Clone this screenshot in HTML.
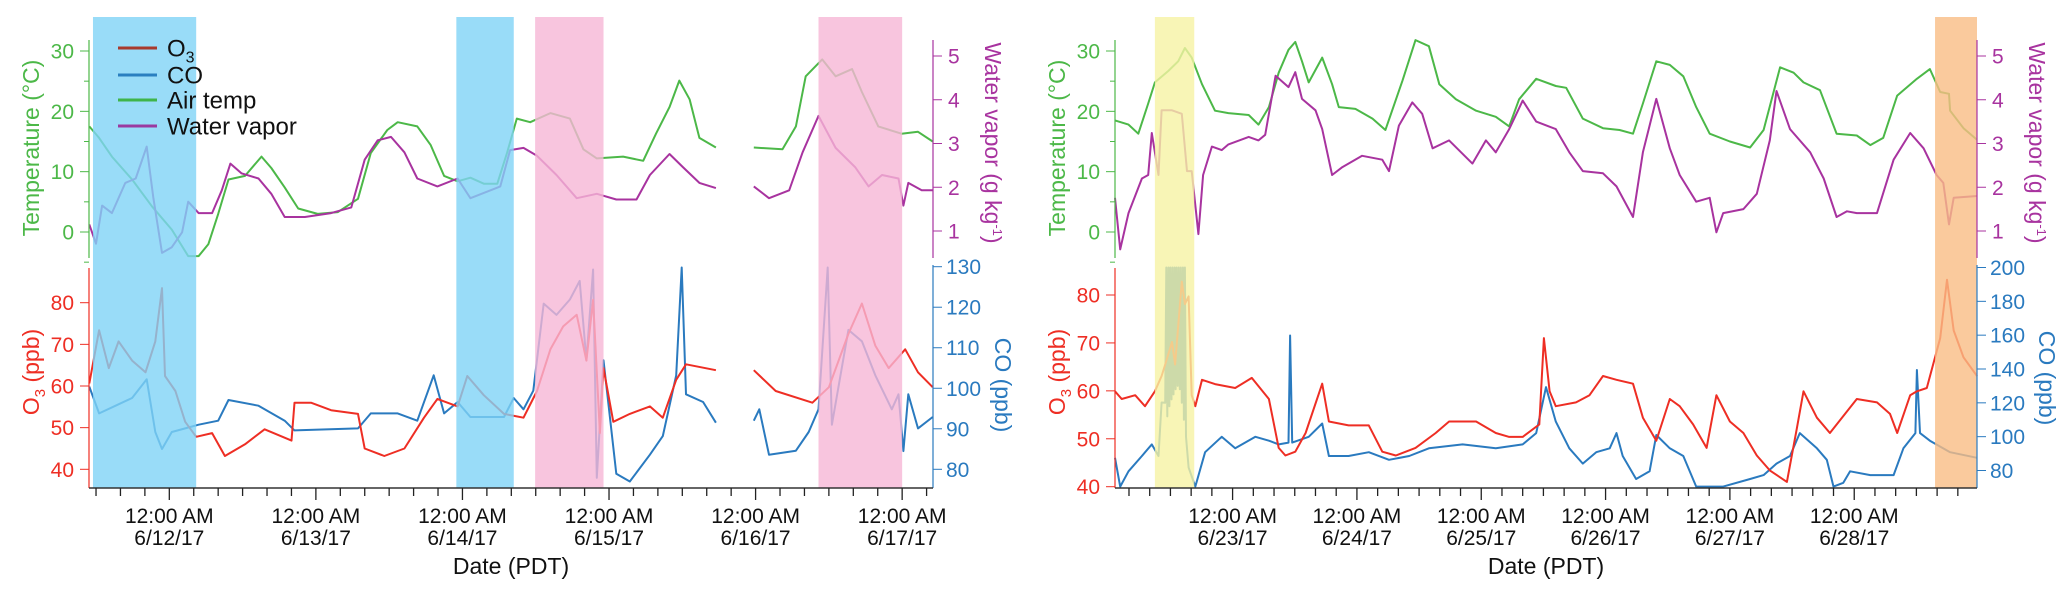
<!DOCTYPE html>
<html><head><meta charset="utf-8">
<style>
html,body{margin:0;padding:0;background:#fff;}
svg{display:block;font-family:"Liberation Sans",Arial,sans-serif;}
</style></head>
<body>
<svg id="chart" width="2067" height="596" viewBox="0 0 2067 596" xmlns="http://www.w3.org/2000/svg">
<g id="leftPanel"></g>
<g id="rightPanel"></g>
</svg>
<script>
// ---------- LEFT PANEL DATA (hours since 6/11/17 00:00) ----------
const L_tempT = [10.9,12.5,14.6,17.9,21.2,24.4,27.1,28.8,30.4,32.0,33.7,36.4,39.1,40.7,42.9,45.1,48.3,51.6,54.9,57.0,59.7,61.4,64.6,66.8,69.0,71.2,73.3,75.5,77.7,79.3,80.9,83.1,86.4,89.6,91.8,94.0,98.3,101.6,103.7,105.9,107.5,109.2,110.8,113.5,null,119.7,124.4,126.6,128.2,130.9,133.1,135.8,137.4,140.1,143.9,146.6,149.0];
const L_tempV = [17.5,15.6,12.5,8.7,4.2,0.4,-4,-4,-2,3,8.7,9.3,12.5,10.6,7.4,3.9,3,3.3,5.5,13.1,16.9,18.2,17.5,14.4,9.3,8.4,9,8,8,13.1,18.8,18.2,19.7,18.8,13.7,12.2,12.5,11.8,16.3,20.7,25.1,22,15.6,14,null,14,13.7,17.5,25.8,28.6,25.8,27,23.2,17.5,16.3,16.6,15];
const L_wvT = [10.9,12.0,13.0,14.6,16.8,18.5,20.3,21.4,22.8,24.4,26.1,27.1,28.8,31.0,32.6,34.0,35.8,38.6,40.7,42.9,46.2,50.5,53.8,56.0,58.1,60.3,62.5,64.6,67.9,71.2,73.3,76.6,78.2,79.8,82.0,84.2,87.4,90.7,94.0,97.2,100.5,102.7,105.9,108.1,110.8,113.5,null,119.7,122.2,125.5,127.7,130.3,133.1,136.3,138.5,140.7,143.4,144.2,145.0,147.2,149.0];
const L_wvV = [1.15,0.71,1.58,1.41,2.1,2.2,2.93,1.75,0.5,0.63,0.97,1.67,1.41,1.41,1.93,2.54,2.32,2.2,1.85,1.32,1.32,1.41,1.54,2.63,3.07,3.15,2.8,2.2,2.02,2.2,1.75,1.93,2.02,2.85,2.9,2.72,2.28,1.75,1.85,1.72,1.72,2.28,2.76,2.46,2.1,1.98,null,2.02,1.75,1.93,2.8,3.63,2.9,2.46,2.02,2.28,2.2,1.58,2.1,1.93,1.93];
const L_o3T = [10.9,12.5,14.1,15.7,17.9,20.1,21.7,22.8,23.3,25.0,26.6,28.4,31.0,33.1,36.4,39.6,44.0,44.5,47.2,50.5,54.9,56.0,59.2,62.5,65.7,67.9,71.2,72.8,75.5,78.8,82.0,84.2,86.4,88.5,90.7,92.3,93.4,94.5,95.1,96.7,99.4,102.7,104.8,107.0,108.6,113.5,null,119.7,123.3,129.3,132.0,135.2,137.4,139.6,141.8,144.5,146.6,149.0];
const L_o3V = [60.6,73.4,64.3,70.7,66.1,63.3,70.7,83.5,62.4,58.8,51.4,47.8,48.7,43.2,46,49.6,46.9,56,56,54.2,53.3,45,43.2,45,52.4,56.9,55.1,62.4,57.8,53.3,52.4,58.8,68.8,74.3,77.1,66.1,80.7,48.7,64.3,51.4,53.3,55.1,52.4,61.5,65.2,63.8,null,63.8,58.8,56,59.7,72.5,79.8,69.7,64.3,68.8,63.3,59.7];
const L_coT = [10.9,12.5,15.2,17.9,20.3,21.7,22.8,24.4,26.6,28.8,32.0,33.7,38.6,42.9,44.5,54.9,57.0,61.4,64.6,67.3,69.0,71.2,73.3,78.8,80.4,82.0,83.6,85.3,87.4,89.6,91.2,92.3,93.4,94.0,95.1,97.2,99.4,102.7,104.8,107.0,107.9,108.6,111.4,113.5,null,119.7,120.6,122.2,126.6,128.7,130.3,131.8,132.5,135.2,137.4,139.6,142.3,143.4,144.2,145.0,146.6,149.0];
const L_coV = [100.4,93.8,95.7,97.6,102.2,89.2,85,89.2,90.1,91,92,97.1,95.7,92,89.6,90.1,93.8,93.8,92,103.2,93.8,96.6,92.9,92.9,97.6,94.8,99.4,120.9,118.1,121.9,126.5,106.9,129.3,77.9,106.9,78.9,77,83.6,88.2,103.2,129.8,98.5,96.6,91.5,null,92,94.8,83.6,84.6,89.2,94.8,129.8,91,114.4,111.6,103.2,94.8,98.5,84.5,98.5,90.1,92.9];
const L_dates = ["6/12/17","6/13/17","6/14/17","6/15/17","6/16/17","6/17/17"];
const L_shadeStart = [11.5,71.0,83.9,130.3];
const L_shadeEnd = [28.4,80.4,95.1,144.0];
const L_shadeColor = ["#80d3f6","#80d3f6","#f6b6d6","#f6b6d6"];

// ---------- RIGHT PANEL DATA (hours since 6/22/17 00:00) ----------
const R_tempT = [1.3,3.9,5.8,7.7,9.0,11.6,13.5,14.8,16.1,18.1,20.6,23.2,27.1,29.0,31.0,32.9,34.8,36.1,37.4,38.7,41.3,43.2,44.5,47.7,51.0,53.5,56.8,59.3,61.9,63.9,67.1,71.0,74.8,77.4,79.3,82.6,86.4,88.4,91.6,95.5,98.7,101.3,103.2,105.8,108.4,111.0,113.5,116.1,120.0,123.9,126.5,129.7,132.3,134.2,137.4,140.6,144.5,147.1,149.6,152.3,156.1,158.6,160.6,162.3,162.5,165.1,167.7];
const R_tempV = [18.5,17.8,16.3,21.3,24.8,26.7,28.3,30.5,28.9,24.5,20.1,19.7,19.4,17.8,20.7,26.4,30.2,31.5,28.3,24.8,28.9,24.5,20.7,20.4,18.8,16.9,25.1,31.8,30.8,24.5,22,20.1,19.1,17.5,22,25.4,24.2,23.9,18.8,17.2,16.9,16.3,21.3,28.3,27.7,25.8,20.7,16.3,15,14,16.9,27.3,26.4,24.8,23.5,16.3,16,14.4,15.6,22.6,25.4,27,23.2,22.9,20.1,17.2,15.3];
const R_wvT = [1.3,2.3,3.9,6.5,7.7,8.4,9.7,10.3,12.3,14.2,15.2,16.1,17.4,18.3,20.0,21.9,23.2,27.1,29.0,30.3,32.3,34.8,36.1,37.4,40.0,41.3,43.2,45.2,49.0,52.9,54.2,56.1,58.7,60.6,62.6,65.8,70.3,72.9,74.8,77.4,80.0,82.6,86.4,89.0,91.6,95.5,98.1,101.3,103.2,105.8,108.4,110.3,113.5,116.1,117.4,118.7,122.6,125.2,127.7,129.0,131.6,135.5,138.1,140.6,142.6,144.5,148.4,151.6,154.8,157.4,159.9,161.2,162.3,163.2,167.7];
const R_wvV = [1.76,0.58,1.41,2.2,2.28,3.24,2.28,3.76,3.76,3.68,2.37,2.37,0.93,2.28,2.93,2.85,2.98,3.15,3.07,3.2,4.55,4.29,4.63,4.02,3.76,3.33,2.28,2.46,2.72,2.63,2.37,3.41,3.94,3.68,2.89,3.07,2.54,3.07,2.8,3.33,3.98,3.5,3.33,2.8,2.37,2.32,2.02,1.32,2.8,4.02,2.89,2.28,1.67,1.76,0.97,1.41,1.5,1.85,3.07,4.2,3.33,2.8,2.2,1.32,1.45,1.41,1.41,2.63,3.24,2.89,2.28,2.1,1.15,1.76,1.8];
const R_o3T = [1.3,2.6,5.2,7.1,9.0,10.3,11.0,12.3,12.9,14.2,14.8,15.5,16.1,16.8,18.1,20.6,24.5,27.7,31.0,32.9,34.2,36.1,38.1,41.3,42.6,46.4,50.3,52.9,55.5,59.3,63.2,65.8,71.0,74.8,77.4,80.0,83.2,84.1,85.2,86.4,90.3,92.9,95.5,98.1,101.3,103.2,105.8,108.4,110.3,112.9,115.5,117.4,120.0,122.6,125.2,127.7,131.0,132.9,134.2,136.8,139.3,144.5,148.4,150.9,152.3,154.8,156.1,158.0,160.6,161.9,163.2,165.1,167.7];
const R_o3V = [59.9,58.3,59.1,56.8,59.9,63.1,65.5,70.2,65.5,82.8,78.1,79.7,59.1,56.8,62.3,61.4,60.6,62.7,58.3,48.1,46.5,47.3,51.2,61.5,53.6,52.8,52.8,47.3,46.5,48.1,51.2,53.6,53.6,51.2,50.4,50.4,53,71,59.9,56.8,57.6,59.1,63.1,62.3,61.5,54.4,49.6,58.3,56.8,53,48.1,59.1,53.6,51.2,46.5,43.4,41,52,59.9,54.4,51.2,58.3,57.6,55.2,51.2,59.1,59.9,60.6,71,83.2,72.6,67,63.1];
const R_coT = [1.3,2.3,3.9,6.5,8.4,9.7,10.3,11.0,11.2,11.4,11.6,11.8,12.0,12.2,12.4,12.6,12.8,13.0,13.2,13.4,13.6,13.8,14.0,14.2,14.4,14.6,14.8,15.0,15.5,16.8,18.7,21.9,24.5,28.4,31.0,32.9,34.8,35.1,35.5,38.7,41.3,42.6,46.4,50.3,54.2,58.1,61.9,68.4,74.8,80.0,82.6,84.5,86.4,89.0,91.6,94.2,96.8,98.1,99.3,101.9,104.5,105.8,108.4,111.0,113.5,118.7,123.9,126.5,129.0,131.6,133.5,136.8,138.7,140.0,141.9,143.2,147.1,151.6,153.5,155.8,156.1,156.7,158.6,162.5,167.7];
const R_coV = [87.5,70.5,79.5,88.6,95.4,88.6,120.2,120,200,112,200,118,200,122,200,125,200,128,200,130,200,128,200,120,200,110,200,100,81.8,70.5,90.8,99.9,93.1,99.9,97.6,95.4,96.5,159.8,96.5,99.9,107.8,88.6,88.6,90.8,86.3,88.6,93.1,95.4,93.1,95.4,102.1,129.3,108.9,93.1,84.1,90.8,93.1,102.1,88.6,75,79.5,101,93.1,88.6,70.5,70.5,75,77.3,84.1,88.6,102.1,93.1,86.3,70.5,72.7,79.5,77.3,77.3,93.1,102.1,139.4,102.1,97.6,90.8,87.5];
const R_dates = ["6/23/17","6/24/17","6/25/17","6/26/17","6/27/17","6/28/17"];
const R_shadeStart = [9.0,159.6];
const R_shadeEnd = [16.6,170];
const R_shadeColor = ["#f6f3a4","#f9bd84"];

// ---------- colours ----------
const C_T="#4cb848", C_WV="#a8339f", C_O3="#ee2e24", C_CO="#2a7abf";
const NS="http://www.w3.org/2000/svg";
function mk(parent,tag,attrs,text){const e=document.createElementNS(NS,tag);for(const k in attrs)e.setAttribute(k,attrs[k]);if(text!==undefined)e.textContent=text;parent.appendChild(e);return e;}
function lin(d0,d1,r0,r1){return v=>r0+(v-d0)*(r1-r0)/(d1-d0);}

function pathFrom(ts,vs,x,y){let d="",pen=false;for(let i=0;i<ts.length;i++){if(ts[i]===null||vs[i]===null){pen=false;continue;}d+=(pen?"L":"M")+x(ts[i]).toFixed(1)+","+y(vs[i]).toFixed(1);pen=true;}return d;}

function drawPanel(g,cfg){
  const x=lin(cfg.t0,cfg.t1,cfg.x0,cfg.x1);
  const yT=lin(0,30,232,51), yW=lin(1,5,231,56);
  const yO=lin(40,80,cfg.o40,cfg.o80), yC=lin(cfg.c0,cfg.c1,cfg.cy0,cfg.cy1);
  const axY=488;
  const series=[["temperature-line",cfg.tT,cfg.tV,yT,C_T],["water-vapor-line",cfg.wT,cfg.wV,yW,C_WV],["co-line",cfg.cT,cfg.cV,yC,C_CO],["o3-line",cfg.oT,cfg.oV,yO,C_O3]];
  for(const s of series){
    const p=mk(g,"path",{d:pathFrom(s[1],s[2],x,s[3]),fill:"none",stroke:s[4],"stroke-width":2,"stroke-linejoin":"round"});
    
    
  }
  for(let i=0;i<cfg.sS.length;i++){
    const a=x(cfg.sS[i]), b=Math.min(x(cfg.sE[i]),cfg.x1);
    const r=mk(g,"rect",{x:a,y:17,width:b-a,height:axY-17,fill:cfg.sC[i],opacity:0.8});
    
    
  }
  const ax=mk(g,"g",{});
  
  
  mk(ax,"line",{x1:cfg.x0,y1:40,x2:cfg.x0,y2:258,stroke:C_T,"stroke-width":1.2});
  for(let v=-5;v<=30;v+=5){const yy=yT(v);mk(ax,"line",{x1:cfg.x0-(v%10===0?9:5),y1:yy,x2:cfg.x0,y2:yy,stroke:C_T,"stroke-width":1});
    if(v%10===0&&v>=0)mk(ax,"text",{x:cfg.x0-15,y:yy+7.5,"text-anchor":"end","font-size":21,fill:C_T},String(v));}
  const tt=mk(g,"text",{transform:`translate(${cfg.x0-50},148) rotate(-90)`,"text-anchor":"middle","font-size":23,fill:C_T},"Temperature (°C)");
  
  
  const aw=mk(g,"g",{});
  
  
  mk(aw,"line",{x1:cfg.x1,y1:40,x2:cfg.x1,y2:258,stroke:C_WV,"stroke-width":1.2});
  for(let v=1;v<=5;v++){const yy=yW(v);mk(aw,"line",{x1:cfg.x1,y1:yy,x2:cfg.x1+9,y2:yy,stroke:C_WV,"stroke-width":1});
    mk(aw,"text",{x:cfg.x1+15,y:yy+7.5,"font-size":21,fill:C_WV},String(v));}
  const wt=mk(g,"text",{transform:`translate(${cfg.x1+52},143) rotate(90)`,"text-anchor":"middle","font-size":23,fill:C_WV});
  
  
  wt.innerHTML='Water vapor (g kg<tspan dy="-8" font-size="13">-1</tspan><tspan dy="8">)</tspan>';
  const ao=mk(g,"g",{});
  
  
  mk(ao,"line",{x1:cfg.x0,y1:268,x2:cfg.x0,y2:axY,stroke:C_O3,"stroke-width":1.2});
  for(let v=40;v<=80;v+=10){const yy=yO(v);mk(ao,"line",{x1:cfg.x0-9,y1:yy,x2:cfg.x0,y2:yy,stroke:C_O3,"stroke-width":1});
    mk(ao,"text",{x:cfg.x0-15,y:yy+7.5,"text-anchor":"end","font-size":21,fill:C_O3},String(v));}
  const ot=mk(g,"text",{transform:`translate(${cfg.x0-50},372) rotate(-90)`,"text-anchor":"middle","font-size":23,fill:C_O3});
  
  
  ot.innerHTML='O<tspan dy="6" font-size="15">3</tspan><tspan dy="-6"> (ppb)</tspan>';
  const ac=mk(g,"g",{});
  
  
  mk(ac,"line",{x1:cfg.x1,y1:265,x2:cfg.x1,y2:axY,stroke:C_CO,"stroke-width":1.2});
  for(let v=cfg.c0;v<=cfg.c1;v+=cfg.cStep){const yy=yC(v);mk(ac,"line",{x1:cfg.x1,y1:yy,x2:cfg.x1+9,y2:yy,stroke:C_CO,"stroke-width":1});
    mk(ac,"text",{x:cfg.x1+13,y:yy+7.5,"font-size":21,fill:C_CO},String(v));}
  const ct=mk(g,"text",{transform:`translate(${cfg.x1+62},${cfg.coTitleY}) rotate(90)`,"text-anchor":"middle","font-size":23,fill:C_CO},"CO (ppb)");
  
  
  const xa=mk(g,"g",{});
  
  
  mk(xa,"line",{x1:cfg.x0,y1:axY,x2:cfg.x1,y2:axY,stroke:"#333","stroke-width":1.6});
  for(let h=Math.ceil(cfg.t0/4)*4;h<=cfg.t1;h+=4){const xx=x(h);mk(xa,"line",{x1:xx,y1:axY,x2:xx,y2:axY+(h%24===0?12:8),stroke:"#222","stroke-width":1.3});}
  for(let i=0;i<cfg.dates.length;i++){const xx=x(24*(i+cfg.firstDay));
    mk(xa,"text",{x:xx,y:523,"text-anchor":"middle","font-size":21,fill:"#111"},"12:00 AM");
    mk(xa,"text",{x:xx,y:545,"text-anchor":"middle","font-size":21,fill:"#111"},cfg.dates[i]);}
  const dt=mk(g,"text",{x:(cfg.x0+cfg.x1)/2,y:574,"text-anchor":"middle","font-size":23,fill:"#111"},"Date (PDT)");
  
  
}

drawPanel(document.getElementById("leftPanel"),{
  t0:10.85,t1:149.05,x0:89,x1:933,o40:469.3,o80:302.7,c0:80,c1:130,cStep:10,cy0:469.3,cy1:266.7,coTitleY:385,
  tT:L_tempT,tV:L_tempV,wT:L_wvT,wV:L_wvV,oT:L_o3T,oV:L_o3V,cT:L_coT,cV:L_coV,
  sS:L_shadeStart,sE:L_shadeEnd,sC:L_shadeColor,dates:L_dates,firstDay:1});
drawPanel(document.getElementById("rightPanel"),{
  t0:1.3,t1:167.7,x0:1115,x1:1977,o40:486.7,o80:295,c0:80,c1:200,cStep:20,cy0:470.5,cy1:267.5,coTitleY:378,
  tT:R_tempT,tV:R_tempV,wT:R_wvT,wV:R_wvV,oT:R_o3T,oV:R_o3V,cT:R_coT,cV:R_coV,
  sS:R_shadeStart,sE:R_shadeEnd,sC:R_shadeColor,dates:R_dates,firstDay:1});

const lg=mk(document.getElementById("leftPanel"),"g",{});


const legNames=["O3","CO","Air temp","Water vapor"];
const legColors=["#a83a2e","#2a7fc0","#3fb44a","#9a3aa0"];
const legY=[48,75,100,126];
for(let i=0;i<4;i++){
  const e=mk(lg,"g",{});
  
  
  mk(e,"line",{x1:118,y1:legY[i],x2:157,y2:legY[i],stroke:legColors[i],"stroke-width":3});
  const t=mk(e,"text",{x:167,y:legY[i]+8.5,"font-size":24,fill:"#111"});
  if(i===0)t.innerHTML='O<tspan dy="6" font-size="16">3</tspan>'; else t.textContent=legNames[i];
}
</script>
</body></html>
